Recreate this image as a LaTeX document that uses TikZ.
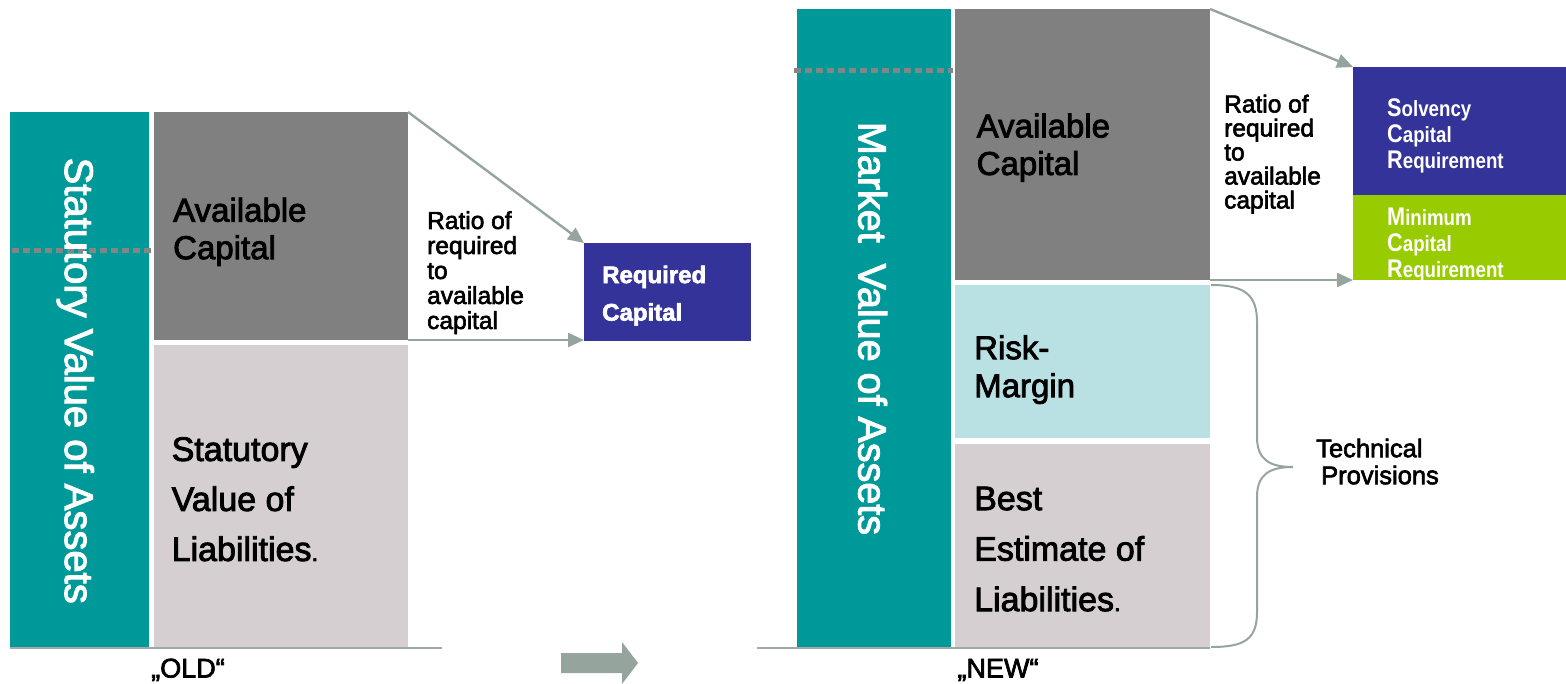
\documentclass[tikz,border=0pt]{standalone}
\usepackage{fontspec}
\setmainfont[FakeBold=2.5]{Liberation Sans}
\newfontfamily\narrowsf[FakeStretch=0.85]{Liberation Sans}
\usetikzlibrary{arrows.meta,calc}

\definecolor{assetteal}{HTML}{009999}
\definecolor{capgrey}{HTML}{808080}
\definecolor{liabgrey}{HTML}{D5CFD1}
\definecolor{riskcyan}{HTML}{B9E0E3}
\definecolor{reqblue}{HTML}{333399}
\definecolor{mcrgreen}{HTML}{99CC00}
\definecolor{linkgrey}{HTML}{95A49C}
\definecolor{rulegrey}{HTML}{A2AAA6}
\definecolor{dotgrey}{HTML}{858585}

% larger initial letter for the requirement labels
\newcommand\bigini[1]{{\fontsize{25.5}{26}\selectfont #1}}

\begin{document}
\begin{tikzpicture}[x=1pt,y=-1pt,
  blk/.style={inner sep=0pt, outer sep=0pt, anchor=north west, draw=none},
  lbl/.style={inner sep=0pt, anchor=north west, align=left},
  bigtxt/.style={lbl, font=\fontsize{33}{37.5}\selectfont},
  liabtxt/.style={lbl, font=\fontsize{34}{50}\selectfont},
  ratiotxt/.style={lbl, font=\fontsize{24.5}{24.5}\selectfont},
  vert/.style={inner sep=0pt, anchor=base, rotate=-90, text=white, font=\fontsize{40}{40}\selectfont},
  reqtxt/.style={lbl, text=white, font=\narrowsf\bfseries\fontsize{22}{26}\selectfont},
  link/.style={draw=linkgrey, line width=2.4pt, -{Triangle[length=16pt,width=14pt]}},
  rule/.style={draw=rulegrey, line width=2pt},
  dotline/.style={draw=dotgrey, line width=5pt, dash pattern=on 7pt off 4pt},
  tagtxt/.style={inner sep=0pt, anchor=base, font=\fontsize{27}{27}\selectfont}]

\useasboundingbox (0,0) rectangle (1566,683);

% ---------- old regime ----------
\node[blk, fill=assetteal, minimum width=139pt, minimum height=535pt] (oa) at (10,112) {};
\node[blk, fill=capgrey,   minimum width=254pt, minimum height=228pt] (oc) at (154,112) {};
\node[blk, fill=liabgrey,  minimum width=254pt, minimum height=302pt] (ol) at (154,345) {};
\node[blk, fill=reqblue,   minimum width=167pt, minimum height=98pt]  (orq) at (584,243) {};

\coordinate (od1) at (12,250);
\coordinate (od2) at (153,250);
\draw[dotline] (od1) -- (od2);

\coordinate (ob1) at (10,648);
\coordinate (ob2) at (442,648);
\draw[rule] (ob1) -- (ob2);

\draw[link] (oc.north east) -- (orq.north west);
\draw[link] (oc.south east) -- (oc.south east -| orq.west);

\node[vert] (oat) at (65,380.7) {Statutory Value of Assets};
\node[bigtxt] (oct) at (173,197.5) {Available\\Capital};
\node[liabtxt] (olt) at (171.5,437) {Statutory\\Value of\\Liabilities{\fontsize{24}{24}\selectfont.}};
\node[ratiotxt, font=\fontsize{24.5}{25}\selectfont] (ort) at (427,211) {Ratio of\\required\\to\\available\\capital};
\node[lbl, text=white, font=\bfseries\fontsize{24}{37.5}\selectfont] (orqt) at (602,265.5) {Required\\Capital};
\node[tagtxt] (oldt) at (188,677.5) {„OLD“};

% ---------- transition arrow ----------
\fill[linkgrey] (561,653) -- (622,653) -- (622,642) -- (638,663) -- (622,684) -- (622,673) -- (561,673) -- cycle;

% ---------- new regime ----------
\node[blk, fill=assetteal, minimum width=154pt, minimum height=638pt] (na) at (797,9) {};
\node[blk, fill=capgrey,   minimum width=255pt, minimum height=271pt] (nc) at (955,9) {};
\node[blk, fill=riskcyan,  minimum width=255pt, minimum height=153pt] (nr) at (955,285) {};
\node[blk, fill=liabgrey,  minimum width=255pt, minimum height=203pt] (nb) at (955,444) {};
\node[blk, fill=reqblue,   minimum width=213pt, minimum height=128pt] (scr) at (1353,67) {};
\node[blk, fill=mcrgreen,  minimum width=213pt, minimum height=85pt]  (mcr) at (1353,195) {};

\coordinate (nd1) at (794,70);
\coordinate (nd2) at (953,70);
\draw[dotline] (nd1) -- (nd2);

\coordinate (nb1) at (757,648);
\coordinate (nb2) at (1210,648);
\draw[rule] (nb1) -- (nb2);

\draw[link] (nc.north east) -- (scr.north west);
\draw[link] (nc.south east) -- (mcr.south west);

% brace grouping risk margin and best estimate
\coordinate (br1) at ($(nr.north east)+(1,0)$);
\coordinate (br2) at ($(nb.south east)+(1,0)$);
\coordinate (brtip) at (1293,467);
\draw[draw=linkgrey, line width=2pt]
  (br1) .. controls (1245,285) and (1257,295) .. (1257,322)
  -- (1257,437) .. controls (1257,460) and (1270,467) .. (brtip)
  .. controls (1270,467) and (1257,474) .. (1257,497)
  -- (1257,612) .. controls (1257,639) and (1245,647) .. (br2);

\node[vert, font=\fontsize{39.5}{39.5}\selectfont] (nat) at (858.5,328.5) {Market\hspace{0.25em} Value of Assets};
\node[bigtxt] (nct) at (976.5,113.3) {Available\\Capital};
\node[bigtxt, font=\fontsize{33}{38}\selectfont] (nrt) at (974,335) {Risk-\\Margin};
\node[liabtxt, font=\fontsize{34}{50.5}\selectfont] (nbt) at (974,486.5) {Best\\Estimate of\\Liabilities{\fontsize{24}{24}\selectfont.}};
\node[ratiotxt, font=\fontsize{24.5}{24}\selectfont] (nrat) at (1224,94.5) {Ratio of\\required\\to\\available\\capital};
\node[reqtxt] (scrt) at (1387,98.3) {\bigini{S}olvency\\\bigini{C}apital\\\bigini{R}equirement};
\node[reqtxt] (mcrt) at (1387,208) {\bigini{M}inimum\\\bigini{C}apital\\\bigini{R}equirement};
\node[lbl, font=\fontsize{25.5}{27}\selectfont] (tpt) at (1316,438.5) {Technical\\\hspace{5pt}Provisions};
\node[tagtxt] (newt) at (998,677.5) {„NEW“};

\end{tikzpicture}
\end{document}
